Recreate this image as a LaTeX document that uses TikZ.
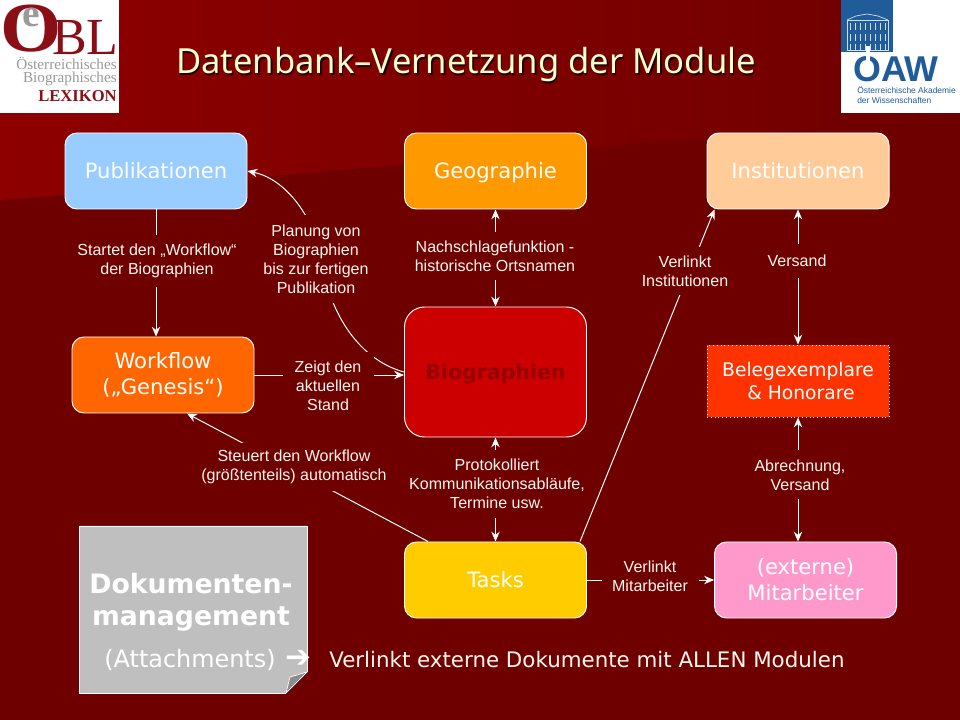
\documentclass[tikz,border=0pt]{standalone}
\usepackage{fontspec}
\setmainfont{Liberation Sans}
\newfontfamily\verdanafont{DejaVu Sans}
\newfontfamily\serifont{Liberation Serif}
\newfontfamily\titlefont{Noto Sans}
\usetikzlibrary{positioning,arrows.meta,calc}
\definecolor{bgdark}{HTML}{6F0000}
\definecolor{bgtop}{HTML}{8E0000}
\definecolor{titlecream}{HTML}{FFFFCC}
\definecolor{labelwhite}{HTML}{FFF6EE}
\definecolor{logored}{HTML}{8B0D16}
\definecolor{logogray}{HTML}{9A9A9A}
\definecolor{oawblue}{HTML}{1F5C99}
\def\unit{0.025cm}
\begin{document}
\begin{tikzpicture}[
  x=0.025cm, y=-0.025cm,
  modulebox/.style={draw=white, line width=0.7pt, rounded corners=0.3cm, minimum width=182*\unit, minimum height=76*\unit, text=white, align=center, font=\verdanafont\fontsize{15}{18.5}\selectfont},
  oneline/.style={text height=13pt, text depth=3pt},
  conn/.style={draw=white, line width=0.7pt},
  arr/.style={conn, -{Stealth[length=7pt, width=6pt]}},
  arrboth/.style={conn, {Stealth[length=7pt, width=6pt]}-{Stealth[length=7pt, width=6pt]}},
  lbl/.style={fill=bgdark, text=labelwhite, align=center, inner sep=0pt, font=\fontsize{11.4}{13.5}\selectfont},
  bigtext/.style={text=white, align=center, font=\verdanafont\fontsize{15.2}{19}\selectfont}
]
\useasboundingbox (0,0) rectangle (960,720);
\fill[bgdark] (0,0) rectangle (960,720);
\shade[left color=bgtop, right color=bgdark] (0,0) -- (960,0) -- (960,118) .. controls (700,135) and (300,175) .. (0,200) -- cycle;

% logos
\fill[white] (0,0) rectangle (119,113);
\node[text=logored, inner sep=0pt, xscale=1.12, font=\serifont\bfseries\fontsize{50}{50}\selectfont] (logoO) at (31,29) {O};
\node[text=logogray, inner sep=0pt, font=\serifont\bfseries\fontsize{28}{28}\selectfont] (logoe) at (31,17) {e};
\node[text=logored, inner sep=0pt, anchor=east, font=\serifont\fontsize{37}{37}\selectfont] (logoBL) at (119,38) {BL};
\node[text=logogray, inner sep=0pt, anchor=east, font=\serifont\fontsize{10.8}{10.8}\selectfont] (logo1) at (117,63) {Österreichisches};
\node[text=logogray, inner sep=0pt, anchor=east, font=\serifont\fontsize{10.8}{10.8}\selectfont] (logo2) at (117,79) {Biographisches};
\node[text=logored, inner sep=0pt, anchor=east, font=\serifont\bfseries\fontsize{11.8}{11.8}\selectfont] (logo3) at (117,96) {LEXIKON};

\fill[white] (841,0) rectangle (960,113);
\fill[oawblue] (841,0) rectangle (893,52);
\draw[white!80!oawblue, line width=0.5pt] (847,20) -- (888,20) -- (888,50) -- (847,50) -- cycle;
\draw[white!80!oawblue, line width=0.5pt] (847,20) -- (856,16) -- (867,14) -- (878,16) -- (888,20);
\foreach \wx in {850,855,...,885} {
  \draw[white!80!oawblue, line width=0.7pt] (\wx,23) -- (\wx,30) (\wx,34) -- (\wx,41) (\wx,44) -- (\wx,50);
}
\node[text=oawblue, inner sep=0pt, font=\bfseries\fontsize{25.5}{25.5}\selectfont] (oaw) at (896,69) {OAW};
\fill[white] (866,46) rectangle (870,61);
\node[text=oawblue, inner sep=0pt, anchor=west, font=\fontsize{6}{7.2}\selectfont, align=left] (oawtext) at (857,95) {Österreichische Akademie\\der Wissenschaften};

% title
\node[text=black!70!bgdark, font=\fontsize{24.6}{30}\selectfont\titlefont, inner sep=0pt] (titleshadow) at (467.5,66.5) {Datenbank–Vernetzung der Module};
\node[text=titlecream, font=\fontsize{24.6}{30}\selectfont\titlefont, inner sep=0pt] (title) at (466,65) {Datenbank–Vernetzung der Module};

% modules
\node[modulebox, oneline, fill={rgb,255:red,153;green,204;blue,255}] (pub) at (156,171) {Publikationen};
\node[modulebox, oneline, fill={rgb,255:red,255;green,153;blue,0}] (geo) at (495.5,171) {Geographie};
\node[modulebox, oneline, fill={rgb,255:red,255;green,204;blue,153}] (inst) at (798,171) {Institutionen};
\node[modulebox, fill={rgb,255:red,255;green,102;blue,0}] (wf) at (163,375) {Workflow\\(„Genesis“)};
\node[modulebox, oneline, fill={rgb,255:red,204;green,0;blue,0}, minimum height=130*\unit, rounded corners=0.5cm, text={rgb,255:red,150;green,0;blue,0}, font=\verdanafont\bfseries\fontsize{14.6}{16}\selectfont] (bio) at (495.5,372) {Biographien};
\node[modulebox, fill={rgb,255:red,255;green,51;blue,0}, rounded corners=0pt, dotted, minimum height=72*\unit, font=\verdanafont\fontsize{13.3}{16}\selectfont] (beleg) at (798,381) {Belegexemplare\\\ \& Honorare};
\node[modulebox, oneline, fill={rgb,255:red,255;green,204;blue,0}] (tasks) at (495.5,580) {Tasks};
\node[modulebox, fill={rgb,255:red,255;green,153;blue,204}] (mit) at (805.5,580) {(externe)\\Mitarbeiter};

% connectors, the labels lie on top of them
\coordinate (planbend) at (322,262);
\coordinate (tasksright) at ($(tasks.north east)+(-7,0)$);
\coordinate (tasksleft) at ($(tasks.north west)+(24,0)$);
\coordinate (instin) at ($(inst.south west)+(8,0)$);
\coordinate (wfin) at ($(wf.south)+(24,0)$);
\draw[arr] (pub.south) -- (pub.south |- wf.north);
\draw[arr] (bio.west) .. controls (360,360) and (330,315) .. (planbend) .. controls (317,225) and (290,180) .. (pub.east);
\draw[arr] (wf.east) -- (wf.east -| bio.west);
\draw[arrboth] (geo.south) -- (bio.north);
\draw[arrboth] (bio.south) -- (tasks.north);
\draw[arr] (tasksright) -- (instin);
\draw[arr] (tasks.east) -- (mit.west);
\draw[arrboth] (inst.south) -- (beleg.north);
\draw[arrboth] (beleg.south) -- (beleg.south |- mit.north);
\draw[arr] (tasksleft) -- (wfin);

% labels
\node[lbl, minimum width=170*\unit, minimum height=52*\unit] (startet) at (157,261) {Startet den „Workflow“\\der Biographien};
\node[lbl, minimum width=110*\unit, minimum height=88*\unit] (planung) at (316,259) {Planung von\\Biographien\\bis zur fertigen\\Publikation};
\node[lbl, minimum width=165*\unit, minimum height=48*\unit] (nachschlag) at (495,256) {Nachschlagefunktion -\\historische Ortsnamen};
\node[lbl, minimum width=90*\unit, minimum height=48*\unit] (verinst) at (685,271) {Verlinkt\\Institutionen};
\node[lbl, minimum width=60*\unit, minimum height=34*\unit] (versand) at (797,261) {Versand};
\node[lbl, minimum width=91*\unit, minimum height=68*\unit] (zeigt) at (328,386) {Zeigt den\\aktuellen\\Stand};
\node[lbl, minimum width=188*\unit, minimum height=48*\unit] (steuert) at (294,467) {Steuert den Workflow\\(größtenteils) automatisch};
\node[lbl, minimum width=180*\unit, minimum height=68*\unit] (protokoll) at (497,484) {Protokolliert\\Kommunikationsabläufe,\\Termine usw.};
\node[lbl, minimum width=97*\unit, minimum height=40*\unit] (vermit) at (650,576) {Verlinkt\\Mitarbeiter};
\node[lbl, minimum width=100*\unit, minimum height=49*\unit] (abrech) at (800,475) {Abrechnung,\\Versand};

% document page
\fill[white!75!black] (79,526) -- (307,526) -- (307,672) -- (286,693) -- (79,693) -- cycle;
\draw[white, line width=0.7pt] (286,693) -- (79,693) -- (79,526) -- (307,526) -- (307,672);
\fill[black!45, draw=white, line width=0.5pt] (286,693) -- (307,672) -- (290,677) -- cycle;
\node[bigtext, font=\verdanafont\bfseries\fontsize{19}{23}\selectfont] (doku) at (191,602) {Dokumenten-\\management};
\node[bigtext, font=\verdanafont\fontsize{17}{19}\selectfont, inner sep=0pt] (attach) at (190,660) {(Attachments)};
\node[text=white, inner sep=0pt, font=\verdanafont\bfseries\fontsize{22}{22}\selectfont] (attarrow) at (298,659) {➔};
\node[bigtext, anchor=west, inner sep=0pt, text=labelwhite] (alle) at (329,660) {Verlinkt externe Dokumente mit ALLEN Modulen};
\end{tikzpicture}
\end{document}
